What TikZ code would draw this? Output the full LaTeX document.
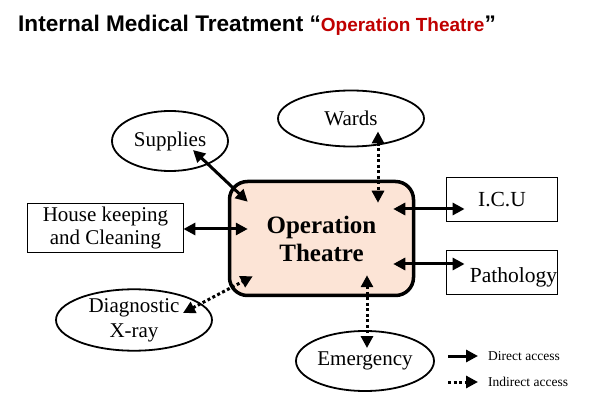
\documentclass[tikz,border=0pt]{standalone}
\usepackage{fontspec}
\setmainfont{Liberation Serif}
\newfontfamily\titlefont{Liberation Sans}
\usetikzlibrary{shapes.geometric,arrows.meta,calc}
\definecolor{otfill}{HTML}{FCE4D6}
\definecolor{titlered}{HTML}{C00000}
\begin{document}
\begin{tikzpicture}[x=1pt,y=-1pt,
  >={Triangle[length=12pt,width=12pt]},
  oval/.style={ellipse, draw, line width=1.8pt, inner sep=0pt, align=center, font=\fontsize{21}{25}\selectfont},
  box/.style={rectangle, draw, line width=1.8pt, inner sep=0pt, align=center, font=\fontsize{21}{23}\selectfont},
  da/.style={line width=3pt, <->},
  ia/.style={line width=3pt, <->, dash pattern=on 3pt off 2.5pt},
  legtext/.style={anchor=west, inner sep=0pt, font=\fontsize{13.5}{16}\selectfont}]
\fill[white] (0,0) rectangle (598,417);
\useasboundingbox (0,0) rectangle (598,417);

% title
\node[anchor=base west, inner sep=0pt, font=\titlefont\bfseries\fontsize{22.6}{26}\selectfont] (title) at (18,32)
  {Internal Medical Treatment “{\color{titlered}\fontsize{19}{22}\selectfont Operation Theatre}”};

% central
\node[rectangle, rounded corners=18pt, draw, line width=3.5pt, fill=otfill,
      minimum width=184pt, minimum height=114pt, align=center,
      font=\bfseries\fontsize{25}{28}\selectfont] (ot) at (321.5,238.5) {Operation\\Theatre};

% satellites
\node[oval, minimum width=116pt, minimum height=60pt] (sup) at (170,141) {Supplies};
\node[oval, minimum width=146pt, minimum height=56pt] (wards) at (351,118.5) {Wards};
\node[box, minimum width=156pt, minimum height=49pt] (hk) at (105.5,228) {House keeping\\and Cleaning};
\node[oval, minimum width=156pt, minimum height=58pt] (diag) at (134,320) {Diagnostic\\X-ray};
\node[oval, minimum width=138pt, minimum height=60pt] (em) at (365,361) {Emergency};
\node[box, minimum width=111pt, minimum height=44pt, font=\fontsize{21.5}{23}\selectfont] (icu) at (502,199.5) {I.C.U};
\node[box, minimum width=111pt, minimum height=44pt, text width=110pt, align=right,
      text depth=0pt, font=\fontsize{21.5}{23}\selectfont] (path) at (502,272.5) {\raisebox{-5pt}{Pathology}};

% connectors
\draw[da] ($(sup.center)+(23,9)$) -- ($(ot.north west)+(20,22)$);
\draw[da] ($(hk.east)+(-1,1)$) -- ($(ot.west)+(20,-9.5)$);
\draw[ia] ($(diag.center)+(49,-7)$) -- ($(ot.south west)+(25,-21)$);
\draw[ia] ($(wards.center)+(27,13)$) -- ($(ot.north)+(56.5,23)$);
\draw[ia] ($(ot.south)+(45.5,-22)$) -- ($(em.center)+(2,-13)$);
\draw[da] ($(ot.east)+(-22,-29.5)$) -- ($(icu.west)+(19,9.5)$);
\draw[da] ($(ot.east)+(-22,25.5)$) -- ($(path.west)+(19,-8.5)$);

% legend
\node[legtext] (ld) at (488,356) {Direct access};
\node[legtext] (li) at (488,382) {Indirect access};
\draw[line width=3pt, ->] ($(ld.west)+(-40,0)$) -- ($(ld.west)+(-10,0)$);
\draw[line width=3pt, ->, dash pattern=on 3pt off 2.5pt] ($(li.west)+(-40,0)$) -- ($(li.west)+(-10,0)$);
\end{tikzpicture}
\end{document}
